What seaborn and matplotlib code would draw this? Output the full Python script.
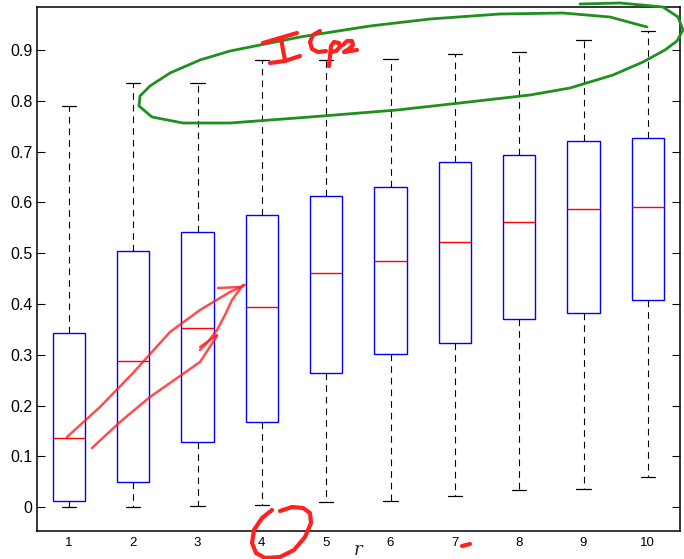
import numpy as np
import pandas as pd
import matplotlib
matplotlib.use("Agg")
import matplotlib.pyplot as plt
import matplotlib.transforms as mtransforms
import seaborn as sns

# ---- data ----
r_labels = ["1", "2", "3", "4", "5", "6", "7", "8", "9", "10"]
lower_whisker = [0.000, 0.000, 0.003, 0.004, 0.011, 0.013, 0.021, 0.033, 0.036, 0.059]
q1 = [0.013, 0.050, 0.128, 0.167, 0.265, 0.302, 0.324, 0.371, 0.383, 0.408]
median = [0.136, 0.287, 0.352, 0.394, 0.461, 0.484, 0.522, 0.561, 0.586, 0.590]
q3 = [0.343, 0.505, 0.542, 0.576, 0.612, 0.630, 0.680, 0.693, 0.721, 0.726]
upper_whisker = [0.790, 0.835, 0.835, 0.880, 0.881, 0.882, 0.893, 0.896, 0.919, 0.937]

# five-number samples so the library computes exactly these box statistics
rows = []
for lab, a, b, c, d, e in zip(r_labels, lower_whisker, q1, median, q3, upper_whisker):
    for v in (a, b, c, d, e):
        rows.append({"r": lab, "value": v})
df = pd.DataFrame(rows)

# ---- hand-drawn annotation strokes (figure pixel coords, decoration only) ----
green_loop_x = [580, 620, 663, 678, 683, 677, 665, 643, 613, 570, 530, 460, 397, 310, 230, 183, 152, 139, 140, 150, 170, 200, 230, 300, 370, 430, 500, 563, 610, 647]
green_loop_y = [4, 3, 7, 17, 30, 41, 50, 62, 75, 88, 95, 103, 110, 117, 123, 123, 117, 106, 96, 86, 73, 60, 51, 37, 26, 19, 14, 13, 17, 27]
red_a_x = [67, 100, 133, 170, 200, 230, 245]
red_a_y = [437, 407, 373, 332, 310, 292, 285]
red_a2_x = [243, 232, 225, 217, 207, 200]
red_a2_y = [285, 300, 315, 330, 343, 350]
red_b_x = [92, 120, 150, 180, 200, 217]
red_b_y = [448, 422, 397, 376, 362, 336]
red_tick1_x = [218, 240]
red_tick1_y = [288, 287]
red_tick2_x = [217, 200]
red_tick2_y = [335, 347]
red_I_top_x = [263, 280, 297]
red_I_top_y = [43, 38, 33]
red_I_stem_x = [281, 283, 285]
red_I_stem_y = [38, 50, 60]
red_I_bot_x = [270, 285, 300]
red_I_bot_y = [63, 61, 56]
red_C_x = [320, 313, 310, 312, 318, 326]
red_C_y = [31, 35, 42, 49, 52, 51]
red_p_x = [329, 330, 331, 334, 339, 340, 336, 331]
red_p_y = [66, 56, 46, 42, 43, 47, 51, 52]
red_2_x = [343, 347, 352, 353, 349, 344, 350, 357]
red_2_y = [45, 41, 41, 45, 49, 52, 51, 50]
red_circle_x = [272, 262, 254, 252, 256, 265, 280, 294, 305, 311, 310, 303, 292, 280]
red_circle_y = [510, 518, 530, 543, 553, 558, 557, 550, 537, 523, 513, 508, 507, 511]
red_dash_x = [462, 470]
red_dash_y = [546, 544]

# ---- figure ----
W, H = 684, 559
sns.set_theme(style="white")
plt.rcParams["font.family"] = ["Liberation Sans", "DejaVu Sans"]

fig = plt.figure(figsize=(W / 100, H / 100), dpi=100)
fig.patch.set_facecolor("white")
ax = fig.add_axes([36.7 / W, 1 - 531 / H, (680 - 36.7) / W, (531 - 7.3) / H])

sns.boxplot(
    data=df, x="r", y="value", order=r_labels, ax=ax,
    whis=(0, 100), width=0.5, color="white", linecolor="blue", linewidth=1.0,
    showfliers=False, capwidths=0.22,
    boxprops=dict(facecolor="white", edgecolor="#0000ff", linewidth=1.0),
    medianprops=dict(color="#ff0000", linewidth=1.0),
    whiskerprops=dict(color="black", linewidth=0.8, linestyle=(0, (6, 4.5))),
    capprops=dict(color="black", linewidth=0.9),
)

ax.set_xlim(-0.5, 9.5)
ax.set_ylim(-0.047, 0.984)
ax.set_yticks(np.arange(0, 0.91, 0.1))
ax.set_yticklabels(["0"] + [f"{v:.1f}" for v in np.arange(0.1, 0.91, 0.1)])
ax.set_xticks(range(len(r_labels)))
ax.set_xticklabels(r_labels)

ax.tick_params(axis="y", which="both", direction="in", length=6, width=0.8,
               left=True, right=True, labelsize=11.5, pad=3, colors="black")
ax.tick_params(axis="x", which="both", length=0, labelsize=9.5, pad=4, colors="black")
for s in ax.spines.values():
    s.set_visible(True)
    s.set_color("black")
    s.set_linewidth(1.1)

ax.set_ylabel("")
ax.set_xlabel("r", fontsize=13, fontstyle="italic", family="DejaVu Serif")
ax.xaxis.label.set_va("baseline")
ax.xaxis.set_label_coords(0.5, -(555 - 531) / (531 - 7.3))
ax.grid(False)

# annotation strokes in pixel space
ptrans = mtransforms.Affine2D().scale(1 / W, -1 / H).translate(0, 1) + fig.transFigure
green = "#1f8f1f"
red = "#ff2020"
fig.add_artist(plt.Line2D(green_loop_x, green_loop_y, transform=ptrans, color=green,
                          lw=2.0, solid_capstyle="round", solid_joinstyle="round"))
for xs, ys in [(red_a_x, red_a_y), (red_a2_x, red_a2_y), (red_b_x, red_b_y),
               (red_tick1_x, red_tick1_y), (red_tick2_x, red_tick2_y)]:
    fig.add_artist(plt.Line2D(xs, ys, transform=ptrans, color=red, lw=1.8, alpha=0.8,
                              solid_capstyle="round", solid_joinstyle="round"))
for xs, ys in [(red_I_top_x, red_I_top_y), (red_I_stem_x, red_I_stem_y),
               (red_I_bot_x, red_I_bot_y), (red_C_x, red_C_y), (red_p_x, red_p_y),
               (red_2_x, red_2_y), (red_circle_x, red_circle_y), (red_dash_x, red_dash_y)]:
    fig.add_artist(plt.Line2D(xs, ys, transform=ptrans, color=red, lw=3.0,
                              solid_capstyle="round", solid_joinstyle="round"))

fig.savefig("out.png", dpi=100, facecolor="white")
